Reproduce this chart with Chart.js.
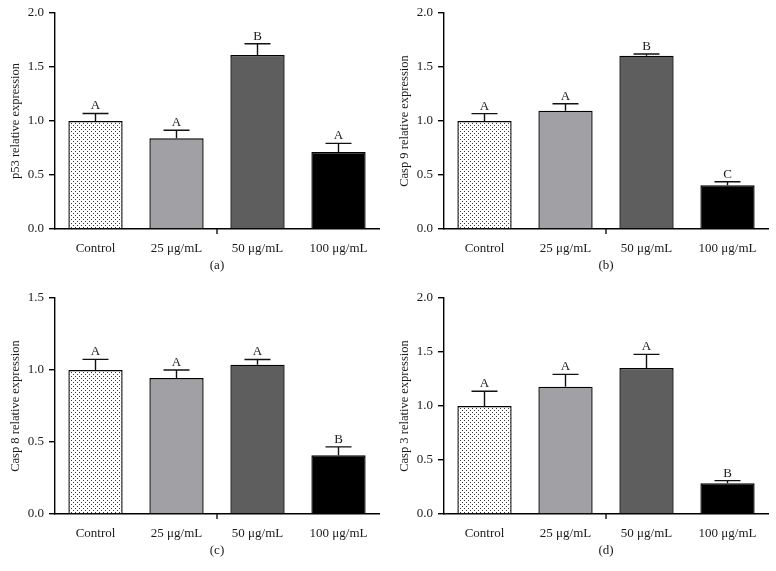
<!DOCTYPE html>
<html>
<head>
<meta charset="utf-8">
<script src="https://cdn.jsdelivr.net/npm/chart.js@4/dist/chart.umd.min.js"></script>
<style>
  html, body { margin: 0; padding: 0; background: #fff; }
  #wrap { position: relative; width: 776px; height: 571px; background: #fff; }
  .panel { position: absolute; width: 388px; height: 285px; }
</style>
</head>
<body>
<div id="wrap">
  <canvas id="c0" class="panel" width="388" height="285" style="left:0px;top:0px"></canvas>
  <canvas id="c1" class="panel" width="388" height="285" style="left:389px;top:0px"></canvas>
  <canvas id="c2" class="panel" width="388" height="285" style="left:0px;top:285px"></canvas>
  <canvas id="c3" class="panel" width="388" height="285" style="left:389px;top:285px"></canvas>
</div>
<script>
// ---------- data ----------
const categories = ['Control', '25 \u03BCg/mL', '50 \u03BCg/mL', '100 \u03BCg/mL'];

const p53Mean   = [1.00, 0.84, 1.61, 0.713];
const p53Err    = [0.07, 0.075, 0.105, 0.08];
const p53Letters = ['A', 'A', 'B', 'A'];

const casp9Mean = [1.00, 1.096, 1.605, 0.404];
const casp9Err  = [0.068, 0.064, 0.015, 0.034];
const casp9Letters = ['A', 'A', 'B', 'C'];

const casp8Mean = [1.00, 0.944, 1.037, 0.408];
const casp8Err  = [0.074, 0.056, 0.036, 0.058];
const casp8Letters = ['A', 'A', 'A', 'B'];

const casp3Mean = [1.00, 1.179, 1.352, 0.284];
const casp3Err  = [0.136, 0.114, 0.126, 0.025];
const casp3Letters = ['A', 'A', 'A', 'B'];

const yTitles   = ['p53 relative expression', 'Casp 9 relative expression', 'Casp 8 relative expression', 'Casp 3 relative expression'];
const yMaxes    = [2.0, 2.0, 1.5, 2.0];
const yStep     = 0.5;
const captions  = ['(a)', '(b)', '(c)', '(d)'];

// ---------- styles ----------
const FONT = "'Liberation Serif', 'DejaVu Serif', serif";
const TEXT = '#1a1a1a';

function dotPattern() {
  const c = document.createElement('canvas');
  c.width = 4; c.height = 4;
  const g = c.getContext('2d');
  g.fillStyle = '#ffffff'; g.fillRect(0, 0, 4, 4);
  g.fillStyle = '#3a3a3a';
  g.fillRect(1, 1, 1, 1);
  g.fillRect(3, 3, 1, 1);
  return g.createPattern(c, 'repeat');
}
const fills = [dotPattern(), '#a1a1a5', '#5e5e5e', '#000000'];

const panels = [
  { mean: p53Mean,   err: p53Err,   letters: p53Letters },
  { mean: casp9Mean, err: casp9Err, letters: casp9Letters },
  { mean: casp8Mean, err: casp8Err, letters: casp8Letters },
  { mean: casp3Mean, err: casp3Err, letters: casp3Letters },
];

const annotatePlugin = {
  id: 'annotate',
  afterDatasetsDraw(chart, args, opts) {
    const ctx = chart.ctx;
    const xs = chart.scales.x, ys = chart.scales.y;
    ctx.save();
    ctx.strokeStyle = '#111';
    ctx.lineWidth = 1.4;
    opts.mean.forEach((m, i) => {
      const x = xs.getPixelForValue(i + 1);
      const yb = ys.getPixelForValue(m);
      const yt = ys.getPixelForValue(m + opts.err[i]);
      ctx.beginPath();
      ctx.moveTo(x, yb); ctx.lineTo(x, yt);
      ctx.moveTo(x - 13, yt); ctx.lineTo(x + 13, yt);
      ctx.stroke();
      ctx.fillStyle = TEXT;
      ctx.font = '13px ' + FONT;
      ctx.textAlign = 'center';
      ctx.textBaseline = 'alphabetic';
      ctx.fillText(opts.letters[i], x, yt - 4);
    });
    // middle tick on x axis
    const xm = xs.getPixelForValue(2.5);
    const yAxis = chart.chartArea.bottom;
    ctx.beginPath();
    ctx.moveTo(xm, yAxis); ctx.lineTo(xm, yAxis + 5);
    ctx.stroke();
    // caption
    ctx.fillStyle = TEXT;
    ctx.font = '13px ' + FONT;
    ctx.textAlign = 'center';
    ctx.textBaseline = 'middle';
    ctx.fillText(opts.caption, xm, yAxis + 37);
    ctx.restore();
  }
};

panels.forEach((p, k) => {
  new Chart(document.getElementById('c' + k), {
    type: 'bar',
    data: {
      datasets: [{
        data: p.mean.map((v, i) => ({ x: i + 1, y: v })),
        backgroundColor: fills,
        borderColor: '#000',
        borderWidth: 1.4,
        borderSkipped: 'start',
        categoryPercentage: 1.0,
        barPercentage: 0.67
      }]
    },
    options: {
      responsive: false,
      animation: false,
      devicePixelRatio: 1,
      layout: { padding: { left: 0, top: 13, right: 9, bottom: 0 } },
      plugins: {
        legend: { display: false },
        tooltip: { enabled: false },
        annotate: { mean: p.mean, err: p.err, letters: p.letters, caption: captions[k] }
      },
      scales: {
        x: {
          type: 'linear',
          min: 0.5,
          max: 4.5,
          offset: false,
          afterBuildTicks: (s) => { s.ticks = [1, 2, 3, 4].map(v => ({ value: v })); },
          afterFit: (s) => { s.height = 56; },
          grid: { display: false, drawTicks: false, offset: false },
          border: { display: true, color: '#000', width: 1.4 },
          ticks: {
            autoSkip: false,
            maxRotation: 0,
            padding: 12,
            color: TEXT,
            font: { family: FONT, size: 13 },
            callback: (v) => categories[v - 1] || ''
          }
        },
        y: {
          min: 0,
          max: yMaxes[k],
          afterFit: (s) => { s.width = 55; },
          grid: { drawOnChartArea: false, drawTicks: true, tickLength: 6, color: '#000', lineWidth: 1.4 },
          border: { display: true, color: '#000', width: 1.4 },
          ticks: {
            stepSize: yStep,
            padding: 5,
            color: TEXT,
            font: { family: FONT, size: 13 },
            callback: (v) => Number(v).toFixed(1)
          },
          title: {
            display: true,
            text: yTitles[k],
            color: TEXT,
            font: { family: FONT, size: 12.5 },
            padding: { top: 8, bottom: 0 }
          }
        }
      }
    },
    plugins: [annotatePlugin]
  });
});
</script>
</body>
</html>
